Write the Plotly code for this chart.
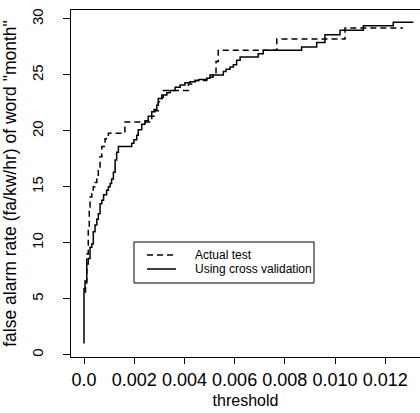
import plotly.graph_objects as go

# Using cross validation (solid): threshold (x1e-3) and false alarm rate
cv_thr = [0.0, 0.0, 0.04, 0.11, 0.17, 0.24, 0.31, 0.37, 0.44, 0.51, 0.57, 0.64, 0.71, 0.78, 0.90, 0.97,
          1.04, 1.10, 1.17, 1.24, 1.30, 1.37, 1.90, 1.99, 2.10, 2.16, 2.30, 2.43, 2.56, 2.70, 2.79, 2.90,
          2.96, 3.10, 3.30, 3.43, 3.63, 3.83, 4.02, 4.22, 4.42, 4.58, 4.89, 5.02, 5.55, 5.66, 5.82, 5.95,
          6.08, 6.22, 6.94, 7.14, 8.67, 9.27, 9.60, 10.20, 11.13, 12.32, 13.12]
cv_fa = [1.0, 5.9, 6.6, 8.1, 8.6, 9.6, 9.9, 11.0, 11.6, 12.1, 12.6, 13.5, 13.8, 14.3, 14.7, 15.0,
         15.3, 15.7, 16.3, 17.4, 18.1, 18.6, 18.9, 19.2, 19.6, 20.1, 20.6, 20.9, 21.3, 21.7, 21.9, 22.3,
         22.9, 23.2, 23.4, 23.6, 23.9, 24.1, 24.3, 24.4, 24.5, 24.6, 24.7, 25.0, 25.3, 25.5, 25.7, 25.9,
         26.3, 26.6, 26.9, 27.2, 27.5, 27.9, 28.6, 29.0, 29.4, 29.7, 29.7]

# Actual test (dashed)
at_thr = [0.02, 0.06, 0.11, 0.17, 0.21, 0.24, 0.31, 0.37, 0.44, 0.51, 0.57, 0.64, 0.71, 0.84, 0.97,
          1.63, 2.70, 2.83, 2.96, 3.10, 3.16, 4.16, 4.42, 4.89, 5.14, 5.26, 5.35, 7.68, 10.40, 12.71]
at_fa = [5.6, 6.4, 9.0, 11.4, 13.2, 14.1, 14.6, 15.0, 15.4, 15.9, 16.6, 17.7, 18.6, 19.3, 19.8,
         20.8, 21.3, 21.8, 22.6, 23.0, 23.6, 24.2, 24.5, 24.8, 25.1, 26.2, 27.2, 28.2, 29.2, 29.2]

series_names = ["Actual test", "Using cross validation"]
series_dash = ["6px,4px", "solid"]

x_ticks = [0.0, 0.002, 0.004, 0.006, 0.008, 0.010, 0.012]
x_tick_labels = ["0.0", "0.002", "0.004", "0.006", "0.008", "0.010", "0.012"]
y_ticks = [0, 5, 10, 15, 20, 25, 30]

FONT = "Liberation Sans, Arial, Helvetica, sans-serif"

fig = go.Figure()
fig.add_trace(go.Scatter(
    x=[t / 1000 for t in at_thr], y=at_fa, mode="lines", name=series_names[0],
    line=dict(color="black", width=1.5, dash=series_dash[0], shape="hv"), showlegend=False))
fig.add_trace(go.Scatter(
    x=[t / 1000 for t in cv_thr], y=cv_fa, mode="lines", name=series_names[1],
    line=dict(color="black", width=1.5, dash=series_dash[1], shape="hv"), showlegend=False))

# compact R-style legend box (box, line samples, labels)
box = dict(x0=0.1805, x1=0.6963, y0=0.2133, y1=0.3314)
rows_y = [0.2940, 0.2536]
shapes = [dict(type="rect", xref="paper", yref="paper", **box,
               line=dict(color="black", width=1), fillcolor="white", layer="above")]
annotations = []
for name, dash, yy in zip(series_names, series_dash, rows_y):
    shapes.append(dict(type="line", xref="paper", yref="paper", x0=0.2178, x1=0.3009,
                       y0=yy, y1=yy, line=dict(color="black", width=1.5, dash=dash), layer="above"))
    annotations.append(dict(text=name, xref="paper", yref="paper", x=0.3496, y=yy,
                            xanchor="left", yanchor="middle", showarrow=False,
                            font=dict(family=FONT, size=12, color="black")))

fig.update_layout(
    width=420, height=413,
    margin=dict(l=71, r=0, t=10, b=56, autoexpand=False),
    paper_bgcolor="white", plot_bgcolor="white",
    font=dict(family=FONT, size=14, color="black"),
    shapes=shapes, annotations=annotations,
)
fig.update_xaxes(
    range=[-0.000518, 0.013386], tickvals=x_ticks, ticktext=x_tick_labels,
    showgrid=False, zeroline=False, showline=True, linecolor="black", linewidth=1,
    mirror=True, ticks="outside", ticklen=6, tickcolor="black", ticklabelstandoff=0,
    title=dict(text="threshold", standoff=6, font=dict(family=FONT, size=16)),
    tickfont=dict(family=FONT, size=18))
fig.update_yaxes(
    range=[-0.2, 30.8], tickvals=y_ticks,
    showgrid=False, zeroline=False, showline=True, linecolor="black", linewidth=1,
    mirror=False, ticks="outside", ticklen=7, tickcolor="black", tickangle=-90,
    ticklabelstandoff=14,
    title=dict(text='false alarm rate (fa/kw/hr) of word "month"', standoff=7,
               font=dict(family=FONT, size=17.5)),
    tickfont=dict(family=FONT, size=15))

fig.write_html("out.html", config={"displayModeBar": False},
               post_script="document.body.style.margin='0';")
